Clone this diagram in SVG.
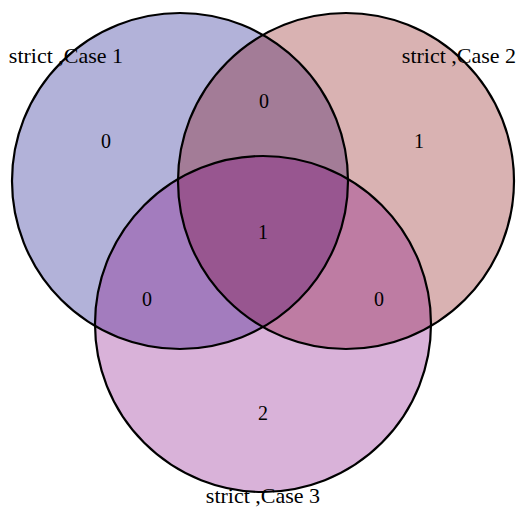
<svg xmlns="http://www.w3.org/2000/svg" width="520" height="508" viewBox="0 0 520 508">
<style>
.set{stroke:none;fill-opacity:0.3}
.edge{fill:none;stroke:#000;stroke-width:2.2}
text{font-family:"Liberation Serif","Times New Roman",serif;fill:#000;text-anchor:middle}
.lab{font-size:22px}
.num{font-size:20px}
</style>
<rect width="520" height="508" fill="#fff"/>
<g id="fills">
<circle class="set" cx="180" cy="181" r="168" fill="#000080"/>
<circle class="set" cx="346" cy="181" r="168" fill="#800000"/>
<circle class="set" cx="263" cy="324" r="168" fill="#800080"/>
</g>
<g id="set1"><circle class="edge" cx="180" cy="181" r="168"/><text class="lab" x="66" y="63">strict ,Case 1</text></g>
<g id="set2"><circle class="edge" cx="346" cy="181" r="168"/><text class="lab" x="459" y="63">strict ,Case 2</text></g>
<g id="set3"><circle class="edge" cx="263" cy="324" r="168"/><text class="lab" x="263" y="503">strict ,Case 3</text></g>
<g id="counts">
<text class="num" x="106" y="148">0</text>
<text class="num" x="264" y="108">0</text>
<text class="num" x="419" y="148">1</text>
<text class="num" x="263" y="239">1</text>
<text class="num" x="147" y="306">0</text>
<text class="num" x="379" y="306">0</text>
<text class="num" x="263" y="420">2</text>
</g>
<g id="connectors"/>
</svg>
